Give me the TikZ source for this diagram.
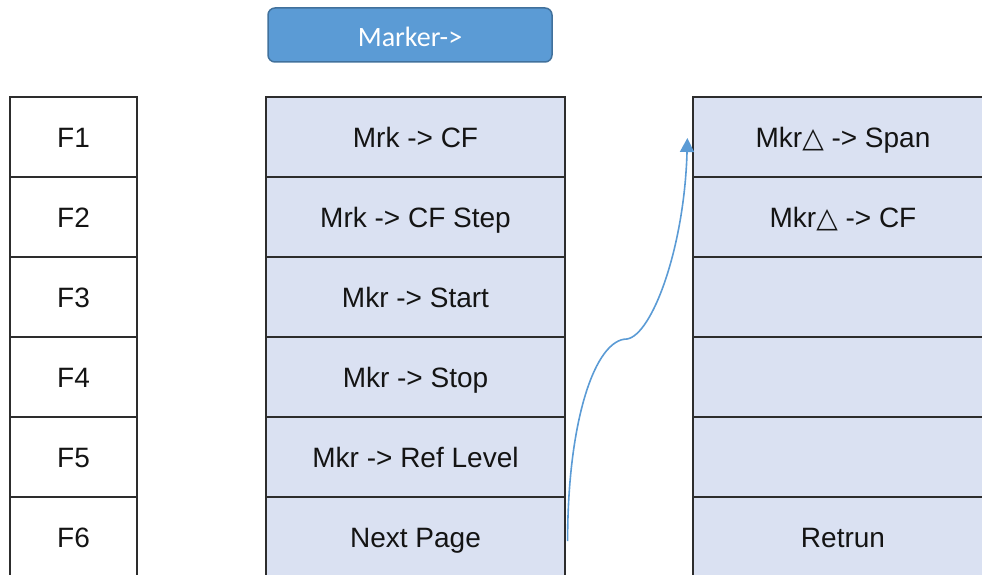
\documentclass[tikz,border=0pt]{standalone}
\usepackage{fontspec}
\setmainfont{Liberation Sans}
\newfontfamily\btnfont{Carlito}
\newfontfamily\symfont{DejaVu Sans}
\usetikzlibrary{arrows.meta}
\definecolor{cellblue}{RGB}{218,225,242}
\definecolor{btnblue}{RGB}{91,155,213}
\definecolor{btnedge}{RGB}{65,113,156}
\definecolor{gridline}{RGB}{45,45,45}
\newcommand{\mkrdelta}{{\symfont\char"25B3}}
\tikzset{
  cell/.style={draw=gridline, line width=1.2pt, minimum height=80pt, inner sep=0pt,
    text height=20pt, text depth=0pt,
    font=\fontsize{28}{32}\selectfont, text=black!92},
  keycell/.style={cell, minimum width=127pt},
  softcell/.style={cell, fill=cellblue, minimum width=299pt},
  deltacell/.style={cell, fill=cellblue, minimum width=300pt},
  markerbtn/.style={draw=btnedge, line width=1.5pt, fill=btnblue, rounded corners=7pt,
    minimum width=284pt, minimum height=54pt, text height=24pt, text depth=0pt,
    text=white, font=\btnfont\fontsize{28}{32}\selectfont},
  link/.style={draw=btnblue, line width=1.6pt, -{Triangle[length=14pt, width=14pt]}}
}
\begin{document}
\begin{tikzpicture}[x=1pt, y=-1pt]
    \useasboundingbox (0, 0) rectangle (982, 575);
    \clip (0, 0) rectangle (982, 575);

    % soft key button
    \node[markerbtn] (marker) at (410, 35) {Marker->};

    % hard keys
    \node[keycell] (f1) at (73.5, 137) {F1};
    \node[keycell] (f2) at (73.5, 217) {F2};
    \node[keycell] (f3) at (73.5, 297) {F3};
    \node[keycell] (f4) at (73.5, 377) {F4};
    \node[keycell] (f5) at (73.5, 457) {F5};
    \node[keycell] (f6) at (73.5, 537) {F6};

    % marker menu
    \node[softcell] (cf) at (415.5, 137) {Mrk -> CF};
    \node[softcell] (cfstep) at (415.5, 217) {Mrk -> CF Step};
    \node[softcell] (start) at (415.5, 297) {Mkr -> Start};
    \node[softcell] (stop) at (415.5, 377) {Mkr -> Stop};
    \node[softcell] (reflevel) at (415.5, 457) {Mkr -> Ref Level};
    \node[softcell] (next) at (415.5, 537) {Next Page};

    % second page
    \node[deltacell] (span) at (843, 137) {Mkr\mkrdelta{} -> Span};
    \node[deltacell] (deltacf) at (843, 217) {Mkr\mkrdelta{} -> CF};
    \node[deltacell] (blanka) at (843, 297) {};
    \node[deltacell] (blankb) at (843, 377) {};
    \node[deltacell] (blankc) at (843, 457) {};
    \node[deltacell] (retrun) at (843, 537) {Retrun};

    \coordinate (bend) at (627, 339);
    \draw[link] ([xshift=2pt, yshift=-4pt]next.east)
      .. controls +(0, -120) and +(-32, 0) .. (bend)
      .. controls +(25, -4) and +(-3, 110) .. ([xshift=-5pt, yshift=-1pt]span.west);
  \end{tikzpicture}
\end{document}
